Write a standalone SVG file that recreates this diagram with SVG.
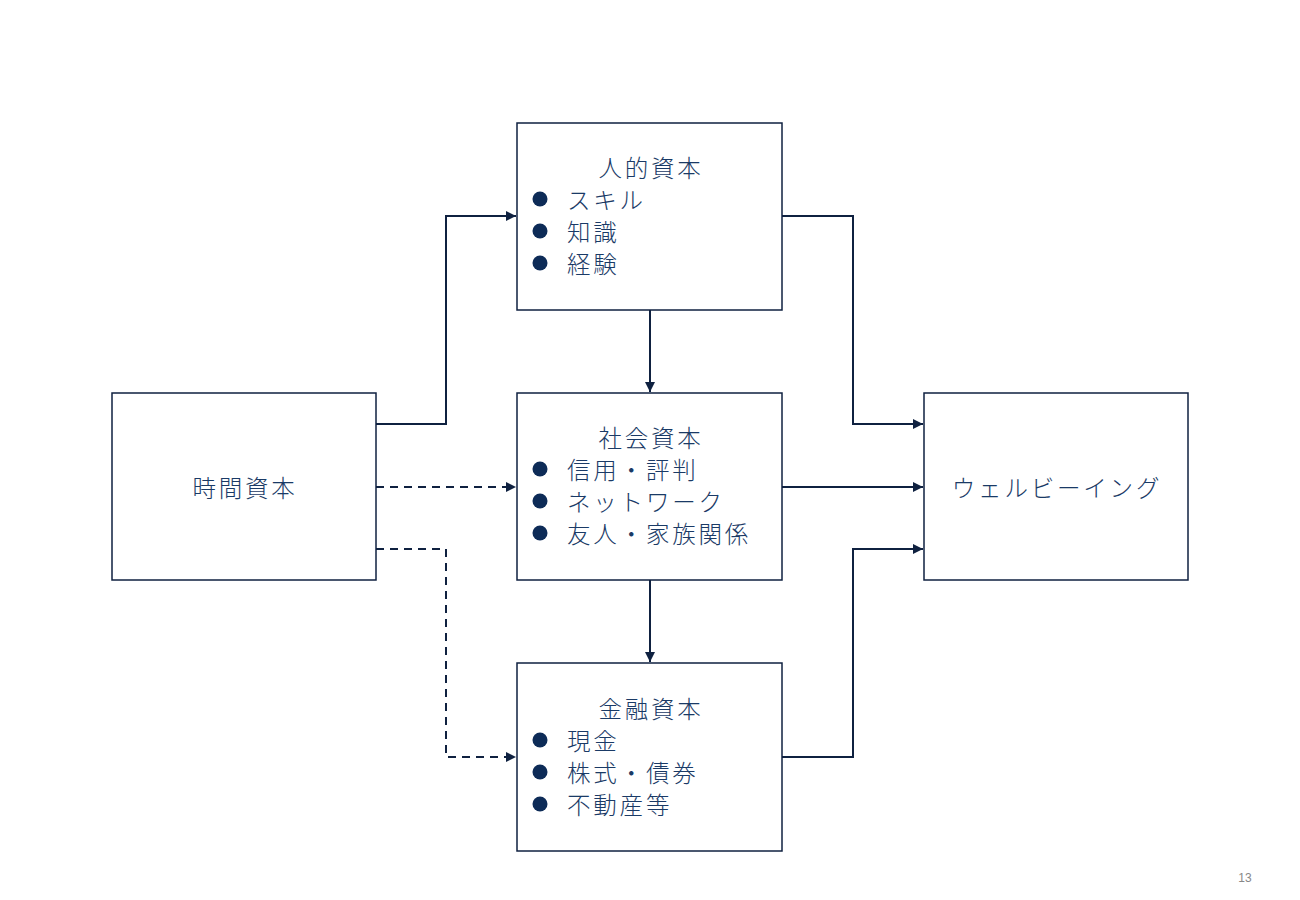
<svg xmlns="http://www.w3.org/2000/svg" width="1300" height="900" viewBox="0 0 1300 900">
<style>
.box{fill:#fff;stroke:#0f2140;stroke-width:1.5}
.t{font-family:"Noto Sans CJK JP","Liberation Sans",sans-serif;font-size:23.5px;font-weight:300;letter-spacing:2.8px;fill:#1a3a66}
.c{text-anchor:middle}
.b{fill:#0d2b57}
.ln{fill:none;stroke:#0f2140;stroke-width:2}
.d{stroke-dasharray:8 6}
</style>
<defs>
<marker id="ah" viewBox="0 0 10 10" refX="10" refY="5" markerWidth="10" markerHeight="10" markerUnits="userSpaceOnUse" orient="auto">
<path d="M0,0 L10,5 L0,10 z" fill="#0f2140"/>
</marker>
</defs>
<rect width="1300" height="900" fill="#fff"/>
<g id="connectors">
<polyline class="ln" points="376,424 446,424 446,216 516,216" marker-end="url(#ah)"/>
<polyline class="ln d" points="376,487 516,487" marker-end="url(#ah)"/>
<polyline class="ln d" points="376,549 446,549 446,757 516,757" marker-end="url(#ah)"/>
<polyline class="ln" points="650,310 650,392" marker-end="url(#ah)"/>
<polyline class="ln" points="650,580 650,662" marker-end="url(#ah)"/>
<polyline class="ln" points="782,216 853,216 853,424 923,424" marker-end="url(#ah)"/>
<polyline class="ln" points="782,487 923,487" marker-end="url(#ah)"/>
<polyline class="ln" points="782,757 853,757 853,549 923,549" marker-end="url(#ah)"/>
</g>
<g id="human">
<rect class="box" x="517" y="123" width="265" height="187"/>
<text class="t c" x="651" y="177">人的資本</text>
<circle class="b" cx="540" cy="199" r="7.5"/><text class="t" x="567" y="209">スキル</text>
<circle class="b" cx="540" cy="231" r="7.5"/><text class="t" x="567" y="241">知識</text>
<circle class="b" cx="540" cy="263" r="7.5"/><text class="t" x="567" y="273">経験</text>
</g>
<g id="social">
<rect class="box" x="517" y="393" width="265" height="187"/>
<text class="t c" x="651" y="447">社会資本</text>
<circle class="b" cx="540" cy="469" r="7.5"/><text class="t" x="567" y="479">信用・評判</text>
<circle class="b" cx="540" cy="501" r="7.5"/><text class="t" x="567" y="511">ネットワーク</text>
<circle class="b" cx="540" cy="533" r="7.5"/><text class="t" x="567" y="543">友人・家族関係</text>
</g>
<g id="financial">
<rect class="box" x="517" y="663" width="265" height="188"/>
<text class="t c" x="651" y="718">金融資本</text>
<circle class="b" cx="540" cy="740" r="7.5"/><text class="t" x="567" y="750">現金</text>
<circle class="b" cx="540" cy="772" r="7.5"/><text class="t" x="567" y="782">株式・債券</text>
<circle class="b" cx="540" cy="804" r="7.5"/><text class="t" x="567" y="814">不動産等</text>
</g>
<g id="time">
<rect class="box" x="112" y="393" width="264" height="187"/>
<text class="t c" x="245" y="497">時間資本</text>
</g>
<g id="wellbeing">
<rect class="box" x="924" y="393" width="264" height="187"/>
<text class="t c" x="1057" y="497">ウェルビーイング</text>
</g>
<text x="1245" y="882" style="font-family:'Liberation Sans',sans-serif;font-size:12px;fill:#888" text-anchor="middle">13</text>
</svg>
